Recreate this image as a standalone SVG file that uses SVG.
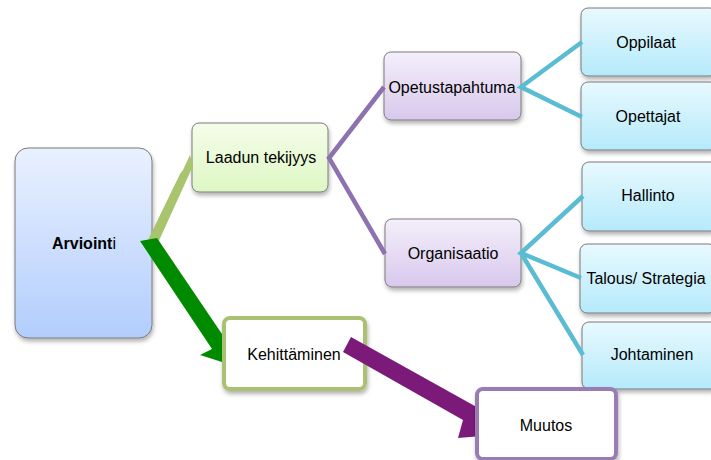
<svg xmlns="http://www.w3.org/2000/svg" width="711" height="460" viewBox="0 0 711 460">
<defs>
<linearGradient id="gBlue" x1="0" y1="0" x2="0" y2="1"><stop offset="0" stop-color="#e9f1fe"/><stop offset="1" stop-color="#b2cdfd"/></linearGradient>
<linearGradient id="gGreen" x1="0" y1="0" x2="0" y2="1"><stop offset="0" stop-color="#f5fdea"/><stop offset="1" stop-color="#def7c4"/></linearGradient>
<linearGradient id="gPurple" x1="0" y1="0" x2="0" y2="1"><stop offset="0" stop-color="#f4effb"/><stop offset="1" stop-color="#d8c8ec"/></linearGradient>
<linearGradient id="gCyan" x1="0" y1="0" x2="0" y2="1"><stop offset="0" stop-color="#e8f9fe"/><stop offset="1" stop-color="#b5eafb"/></linearGradient>
<filter id="sh" x="-10%" y="-10%" width="130%" height="130%"><feDropShadow dx="1" dy="3" stdDeviation="2" flood-color="#000" flood-opacity="0.3"/></filter>
</defs>
<style>
text{font-family:"Liberation Sans",Arial,sans-serif;font-size:16px;fill:#000;text-anchor:middle}
.n{stroke:#7a7a7a;stroke-width:1;filter:url(#sh)}
.pl{fill:none;stroke:#8e72b0;stroke-width:4.5;stroke-linecap:butt}
.cl{fill:none;stroke:#5abcd2;stroke-width:4.5;stroke-linecap:butt}
</style>
<g id="arviointi"><rect class="n" x="15" y="148" width="137" height="190" rx="13" fill="url(#gBlue)"/><text x="84" y="249" font-weight="bold">Arvioint<tspan font-weight="normal">i</tspan></text></g>
<g id="laadun"><rect class="n" x="192" y="123" width="136" height="69" rx="7" fill="url(#gGreen)"/><text x="261" y="163">Laadun tekijyys</text></g>
<g id="opetustapahtuma"><rect class="n" x="384" y="52" width="137" height="68" rx="7" fill="url(#gPurple)"/><text x="452" y="93">Opetustapahtuma</text></g>
<g id="organisaatio"><rect class="n" x="385" y="219" width="136" height="68" rx="7" fill="url(#gPurple)"/><text x="453" y="259">Organisaatio</text></g>
<g id="oppilaat"><rect class="n" x="581" y="8" width="136" height="68" rx="7" fill="url(#gCyan)"/><text x="646" y="48">Oppilaat</text></g>
<g id="opettajat"><rect class="n" x="581" y="82" width="136" height="68" rx="7" fill="url(#gCyan)"/><text x="648" y="122">Opettajat</text></g>
<g id="hallinto"><rect class="n" x="582" y="162" width="136" height="69" rx="7" fill="url(#gCyan)"/><text x="648" y="201">Hallinto</text></g>
<g id="talous"><rect class="n" x="580" y="244" width="136" height="69" rx="7" fill="url(#gCyan)"/><text x="646" y="284" font-size="16.5px">Talous/ Strategia</text></g>
<g id="johtaminen"><rect class="n" x="582" y="322" width="136" height="67" rx="7" fill="url(#gCyan)"/><text x="652" y="360">Johtaminen</text></g>
<g id="kehittaminen"><rect x="224" y="318" width="141" height="71" rx="6" fill="#fff" stroke="#a9c170" stroke-width="4" filter="url(#sh)"/><text x="294" y="360">Kehittäminen</text></g>
<g id="connectors">
<polygon points="147,242 157,245 193,166 190,155 183,170 180,174" fill="#a8c46c"/>
<polygon points="140,241 157,238 222,334 222,362 200,355 212,349" fill="#008a00"/>
<polyline class="pl" points="384,87 329,158 385,254"/>
<polyline class="cl" points="582,42 521,87 582,117"/>
<polyline class="cl" points="583,196 521,253 581,278"/>
<polyline class="cl" points="521,253 583,355"/>
<polygon points="351,337 482,410 482,436 458,438 463,420 343,352" fill="#7c1a79"/>
</g>
<g id="muutos"><rect x="477" y="389" width="139" height="70" rx="6" fill="#fff" stroke="#9a7bb5" stroke-width="4" filter="url(#sh)"/><text x="546" y="431">Muutos</text></g>
</svg>
